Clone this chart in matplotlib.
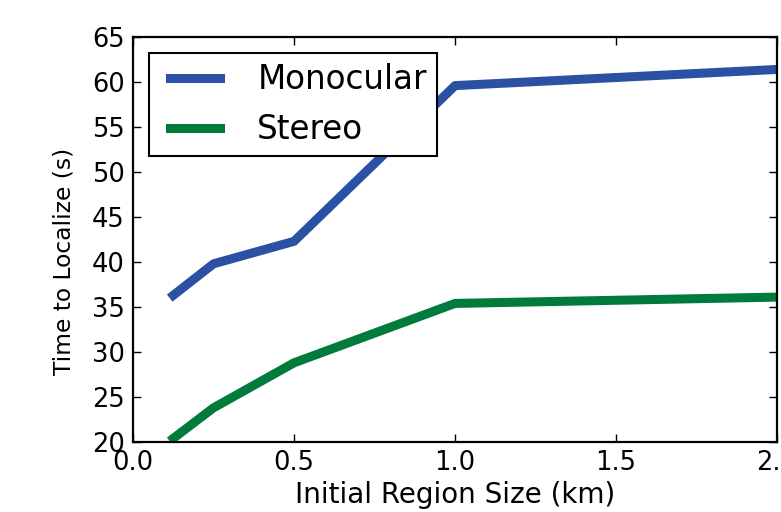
import matplotlib
matplotlib.use("Agg")
import matplotlib.pyplot as plt
from matplotlib.legend_handler import HandlerLine2D

# region size (km) vs time to localize (s)
region_size = [0.125, 0.25, 0.5, 1.0, 2.0]
monocular = [36.3, 39.8, 42.3, 59.6, 61.4]
stereo = [20.4, 23.8, 28.8, 35.4, 36.1]

fig = plt.figure(figsize=(7.81, 5.12), dpi=100)
ax = fig.add_axes([0.1703, 0.1367, 0.8247, 0.791])

l1, = ax.plot(region_size, monocular, color='#2a51a3', lw=6.5, label='Monocular')
l2, = ax.plot(region_size, stereo, color='#007b3c', lw=6.5, label='Stereo')

ax.set_xlim(0, 2.0)
ax.set_ylim(20, 65)
ax.set_xticks([0.0, 0.5, 1.0, 1.5, 2.0])
ax.set_yticks(range(20, 66, 5))
ax.tick_params(direction='in', length=6, width=1, labelsize=18.5, pad=6,
               top=True, right=True)
for sp in ax.spines.values():
    sp.set_linewidth(1.6)

ax.set_xlabel('Initial Region Size (km)', fontsize=20, labelpad=3.5)
ax.set_ylabel('Time to Localize (s)', fontsize=16.8)
ax.yaxis.set_label_coords(-0.09, 0.447)

# old-style legend: handle set in a bit from the frame
hm = {l1: HandlerLine2D(xpad=0.34), l2: HandlerLine2D(xpad=0.34)}
leg = ax.legend(loc='upper left', fontsize=23.5, fancybox=False, framealpha=1,
                edgecolor='black', borderaxespad=0.5, handlelength=1.88,
                handletextpad=1.13, borderpad=0.3, labelspacing=0.52,
                handler_map=hm)
leg.get_frame().set_linewidth(1.5)

fig.savefig('out.png', dpi=100)
